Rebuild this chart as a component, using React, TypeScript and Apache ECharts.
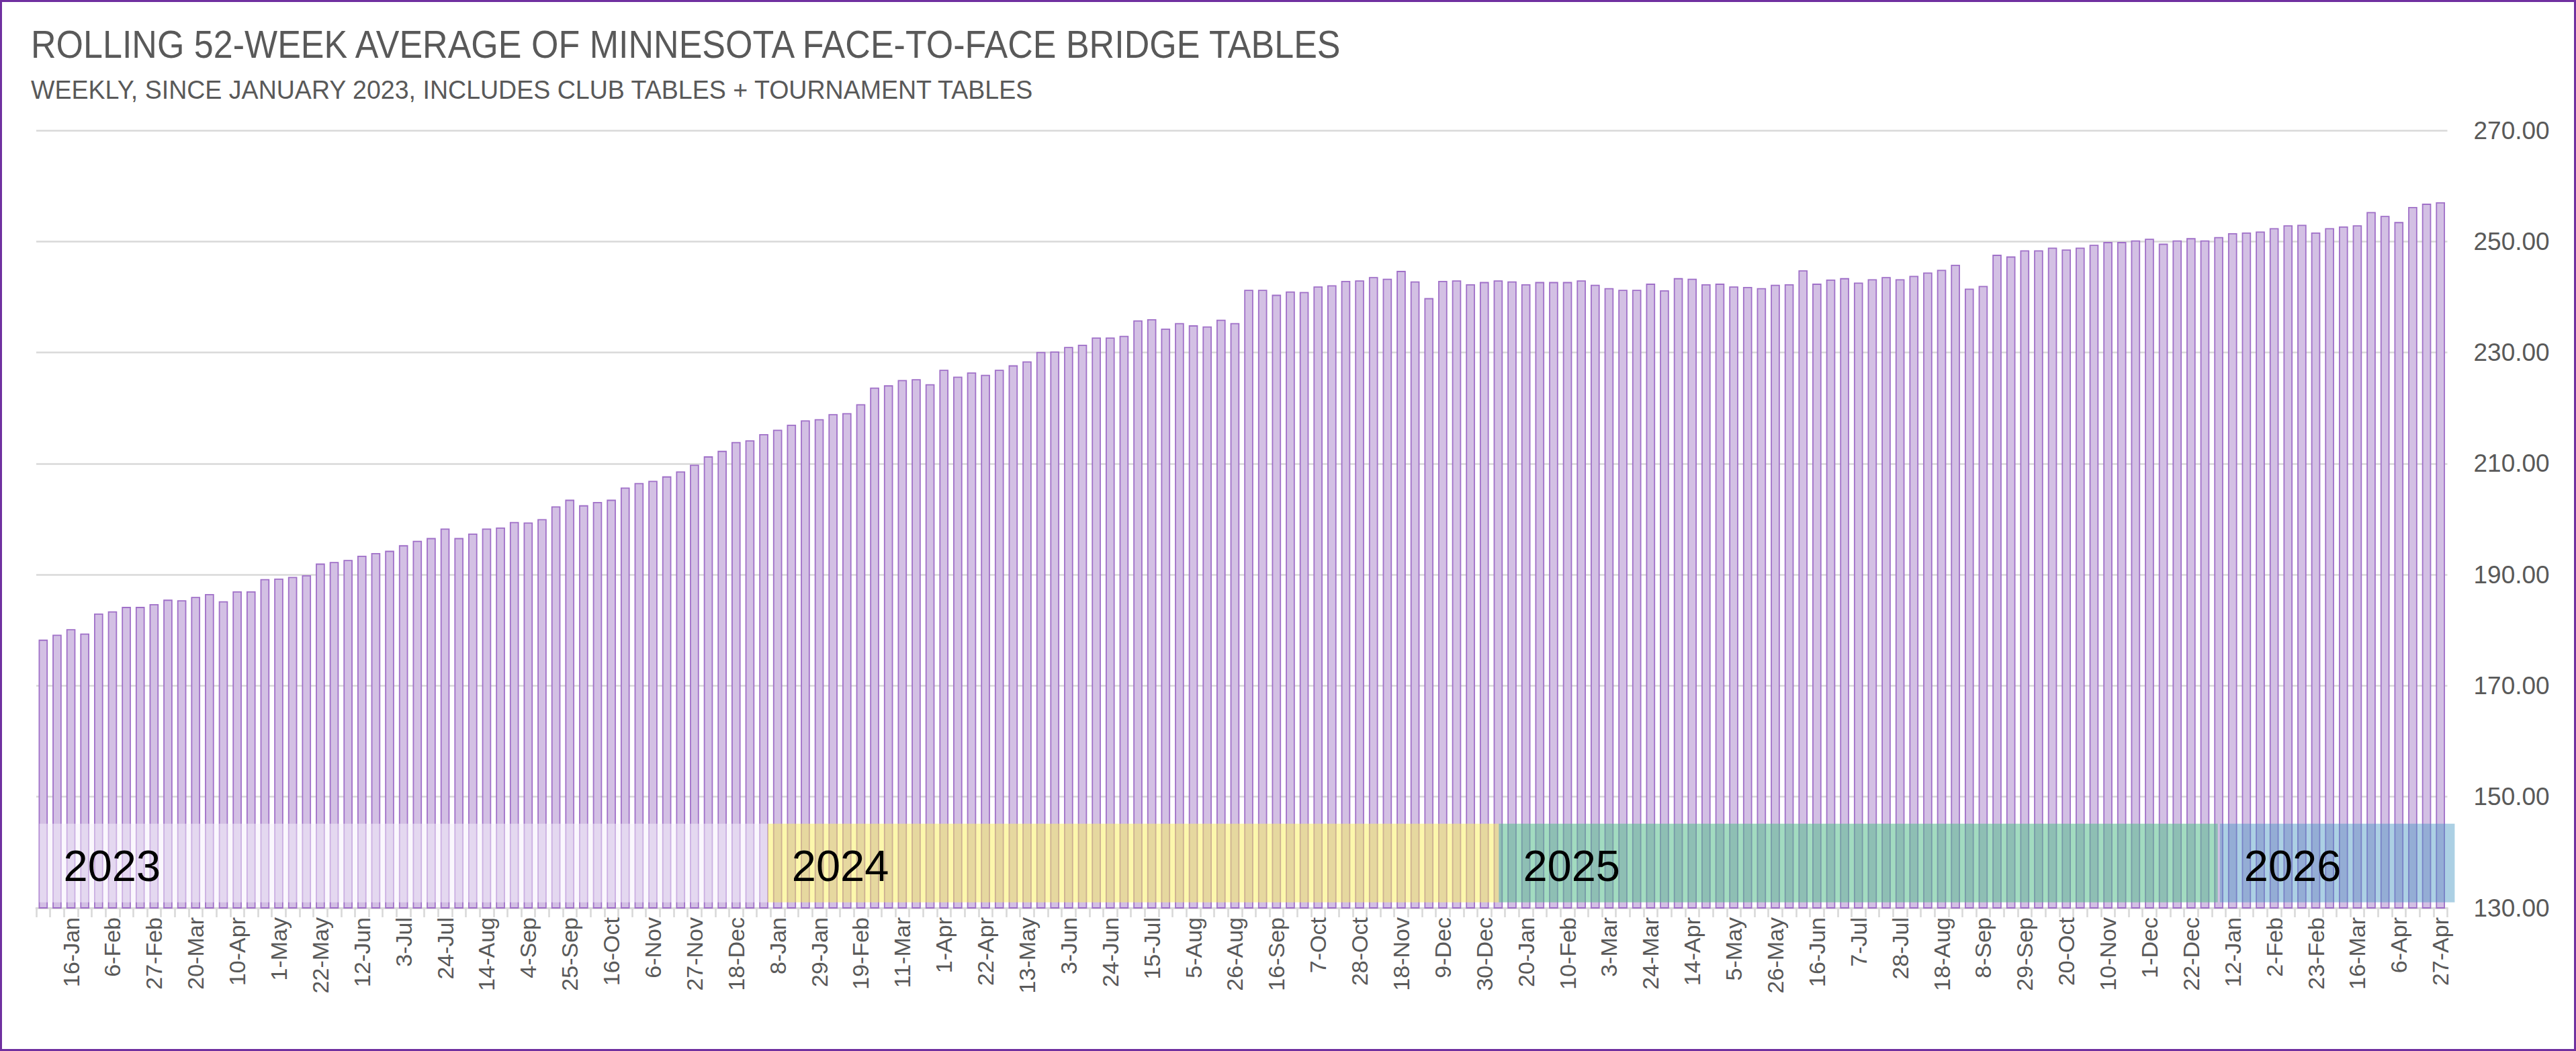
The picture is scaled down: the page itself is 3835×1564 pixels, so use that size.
import React, { useEffect, useRef } from "react";
import * as echarts from "echarts";

// Week-starting (Monday) categories, 2-Jan-2023 .. 27-Apr-2026
const weeks: string[] = [
  "2-Jan", "9-Jan", "16-Jan", "23-Jan", "30-Jan", "6-Feb", "13-Feb", "20-Feb", "27-Feb",
  "6-Mar", "13-Mar", "20-Mar", "27-Mar", "3-Apr", "10-Apr", "17-Apr", "24-Apr",
  "1-May", "8-May", "15-May", "22-May", "29-May", "5-Jun", "12-Jun", "19-Jun", "26-Jun",
  "3-Jul", "10-Jul", "17-Jul", "24-Jul", "31-Jul", "7-Aug", "14-Aug", "21-Aug", "28-Aug",
  "4-Sep", "11-Sep", "18-Sep", "25-Sep", "2-Oct", "9-Oct", "16-Oct", "23-Oct", "30-Oct",
  "6-Nov", "13-Nov", "20-Nov", "27-Nov", "4-Dec", "11-Dec", "18-Dec", "25-Dec",
  "1-Jan", "8-Jan", "15-Jan", "22-Jan", "29-Jan", "5-Feb", "12-Feb", "19-Feb", "26-Feb",
  "4-Mar", "11-Mar", "18-Mar", "25-Mar", "1-Apr", "8-Apr", "15-Apr", "22-Apr", "29-Apr",
  "6-May", "13-May", "20-May", "27-May", "3-Jun", "10-Jun", "17-Jun", "24-Jun",
  "1-Jul", "8-Jul", "15-Jul", "22-Jul", "29-Jul", "5-Aug", "12-Aug", "19-Aug", "26-Aug",
  "2-Sep", "9-Sep", "16-Sep", "23-Sep", "30-Sep", "7-Oct", "14-Oct", "21-Oct", "28-Oct",
  "4-Nov", "11-Nov", "18-Nov", "25-Nov", "2-Dec", "9-Dec", "16-Dec", "23-Dec", "30-Dec",
  "6-Jan", "13-Jan", "20-Jan", "27-Jan", "3-Feb", "10-Feb", "17-Feb", "24-Feb",
  "3-Mar", "10-Mar", "17-Mar", "24-Mar", "31-Mar", "7-Apr", "14-Apr", "21-Apr", "28-Apr",
  "5-May", "12-May", "19-May", "26-May", "2-Jun", "9-Jun", "16-Jun", "23-Jun", "30-Jun",
  "7-Jul", "14-Jul", "21-Jul", "28-Jul", "4-Aug", "11-Aug", "18-Aug", "25-Aug",
  "1-Sep", "8-Sep", "15-Sep", "22-Sep", "29-Sep", "6-Oct", "13-Oct", "20-Oct", "27-Oct",
  "3-Nov", "10-Nov", "17-Nov", "24-Nov", "1-Dec", "8-Dec", "15-Dec", "22-Dec", "29-Dec",
  "5-Jan", "12-Jan", "19-Jan", "26-Jan", "2-Feb", "9-Feb", "16-Feb", "23-Feb",
  "2-Mar", "9-Mar", "16-Mar", "23-Mar", "30-Mar", "6-Apr", "13-Apr", "20-Apr", "27-Apr",
];

// Rolling 52-week average of tables, one value per week
const avgTables: number[] = [
  178.3, 179.2, 180.2, 179.4, 183.0, 183.4, 184.2, 184.2, 184.7, 185.5,
  185.4, 186.0, 186.5, 185.2, 187.0, 187.0, 189.2, 189.3, 189.6, 189.9,
  192.0, 192.3, 192.65, 193.4, 193.9, 194.3, 195.3, 196.1, 196.6, 198.3,
  196.6, 197.4, 198.3, 198.5, 199.5, 199.4, 200.0, 202.3, 203.5, 202.5,
  203.1, 203.5, 205.7, 206.5, 206.9, 207.7, 208.6, 209.8, 211.3, 212.3,
  213.9, 214.2, 215.3, 216.1, 217.0, 217.8, 218.0, 218.9, 219.1, 220.7,
  223.7, 224.1, 225.05, 225.2, 224.3, 226.9, 225.65, 226.4, 226.0, 226.9,
  227.7, 228.4, 230.1, 230.2, 231.0, 231.4, 232.7, 232.7, 233.0, 235.8,
  236.0, 234.3, 235.3, 234.9, 234.7, 235.9, 235.3, 241.3, 241.3, 240.4,
  241.0, 240.9, 241.9, 242.1, 242.9, 243.0, 243.6, 243.3, 244.7, 242.8,
  239.8, 242.9, 243.0, 242.3, 242.7, 243.0, 242.8, 242.3, 242.7, 242.7,
  242.7, 243.0, 242.2, 241.6, 241.3, 241.3, 242.4, 241.2, 243.4, 243.3,
  242.3, 242.4, 241.9, 241.8, 241.6, 242.2, 242.3, 244.8, 242.4, 243.15,
  243.4, 242.6, 243.2, 243.6, 243.2, 243.8, 244.4, 244.9, 245.8, 241.5,
  242.0, 247.6, 247.3, 248.4, 248.4, 248.9, 248.55, 248.9, 249.4, 249.9,
  249.9, 250.2, 250.5, 249.6, 250.2, 250.6, 250.2, 250.8, 251.5, 251.6,
  251.8, 252.4, 252.9, 253.0, 251.6, 252.4, 252.7, 252.9, 255.3, 254.6,
  253.5, 256.2, 256.8, 257.05,
];

// Year bands (in week units along the category axis)
const yearLabels: string[] = ["2023", "2024", "2025", "2026"];
const yearStart: number[] = [0.22, 52.78, 105.55, 157.58];
const yearEnd: number[] = [52.78, 105.55, 157.43, 174.53];
const bandLow = 131;
const bandHigh = 145.15;
const yearColors: string[] = [
  "rgba(245, 240, 251, 0.5)",
  "rgba(250, 240, 90, 0.5)",
  "rgba(85, 190, 140, 0.55)",
  "rgba(70, 150, 195, 0.45)",
];

// Value axis ticks
const yMin = 130;
const yMax = 270;
const yStep = 20;

const TITLE = "ROLLING 52-WEEK AVERAGE OF MINNESOTA FACE-TO-FACE BRIDGE TABLES";
const SUBTITLE = "WEEKLY, SINCE JANUARY 2023, INCLUDES CLUB TABLES + TOURNAMENT TABLES";

export default function App() {
  const ref = useRef<HTMLDivElement>(null);

  useEffect(() => {
    if (!ref.current) return;
    const chart = echarts.init(ref.current, undefined, { renderer: "svg" });
    const bandData = yearLabels.map((_, i) => [yearStart[i], yearEnd[i], bandLow, bandHigh]);

    chart.setOption({
      animation: false,
      backgroundColor: "#ffffff",
      graphic: [
        {
          type: "text",
          x: 46,
          y: 67,
          scaleX: 0.913,
          style: {
            text: TITLE,
            fill: "#595959",
            fontSize: 57,
            fontFamily: "Liberation Sans",
            verticalAlign: "middle",
          },
        },
        {
          type: "text",
          x: 46,
          y: 133,
          scaleX: 0.963,
          style: {
            text: SUBTITLE,
            fill: "#595959",
            fontSize: 39,
            fontFamily: "Liberation Sans",
            verticalAlign: "middle",
          },
        },
      ],
      grid: { left: 54, right: 191.5, top: 194, bottom: 213, containLabel: false },
      xAxis: [
        {
          type: "category",
          data: weeks,
          boundaryGap: true,
          axisLine: { lineStyle: { color: "#d9d9d9", width: 2.8 } },
          axisTick: {
            show: true,
            interval: 0,
            length: 14,
            lineStyle: { color: "#d9d9d9", width: 2.6 },
          },
          axisLabel: {
            interval: (index: number) => index % 3 === 2,
            rotate: 90,
            margin: 14,
            color: "#595959",
            fontSize: 34,
            fontFamily: "Liberation Sans",
          },
          splitLine: { show: false },
        },
        {
          type: "value",
          min: 0,
          max: 174,
          show: false,
        },
      ],
      yAxis: {
        type: "value",
        position: "right",
        min: yMin,
        max: yMax,
        interval: yStep,
        axisLine: { show: false },
        axisTick: { show: false },
        axisLabel: {
          formatter: (v: number) => v.toFixed(2),
          color: "#595959",
          fontSize: 37,
          fontFamily: "Liberation Sans",
          margin: 39,
        },
        splitLine: { lineStyle: { color: "#d9d9d9", width: 2.6 } },
      },
      series: [
        {
          type: "bar",
          data: avgTables,
          xAxisIndex: 0,
          yAxisIndex: 0,
          barCategoryGap: "34%",
          itemStyle: {
            color: "#d3c0e4",
            borderColor: "#a070c8",
            borderWidth: 1.8,
          },
          silent: true,
          z: 2,
        },
        {
          type: "custom",
          xAxisIndex: 1,
          yAxisIndex: 0,
          data: bandData,
          encode: { x: [0, 1], y: [2, 3] },
          silent: true,
          clip: false,
          z: 4,
          renderItem: (params: any, api: any) => {
            const i = params.dataIndex;
            const p0 = api.coord([api.value(0), api.value(3)]);
            const p1 = api.coord([api.value(1), api.value(2)]);
            return {
              type: "group",
              children: [
                {
                  type: "rect",
                  shape: { x: p0[0], y: p0[1], width: p1[0] - p0[0], height: p1[1] - p0[1] },
                  style: { fill: yearColors[i] },
                },
                {
                  type: "text",
                  x: p0[0] + 36,
                  y: (p0[1] + p1[1]) / 2 + 4,
                  style: {
                    text: yearLabels[i],
                    fill: "#000000",
                    fontSize: 65,
                    fontFamily: "Liberation Sans",
                    align: "left",
                    verticalAlign: "middle",
                  },
                },
              ],
            };
          },
        },
      ],
    });
    return () => chart.dispose();
  }, []);

  return (
    <div style={{ position: "fixed", left: 0, top: 0, width: "100vw", height: "100vh", background: "#fff" }}>
      <div ref={ref} style={{ position: "absolute", left: 0, top: 0, width: "100%", height: "100%" }} />
      <div
        style={{
          position: "absolute",
          left: 0,
          top: 0,
          right: 0,
          bottom: 0,
          border: "3px solid #7030a0",
          boxSizing: "border-box",
          pointerEvents: "none",
        }}
      />
    </div>
  );
}
